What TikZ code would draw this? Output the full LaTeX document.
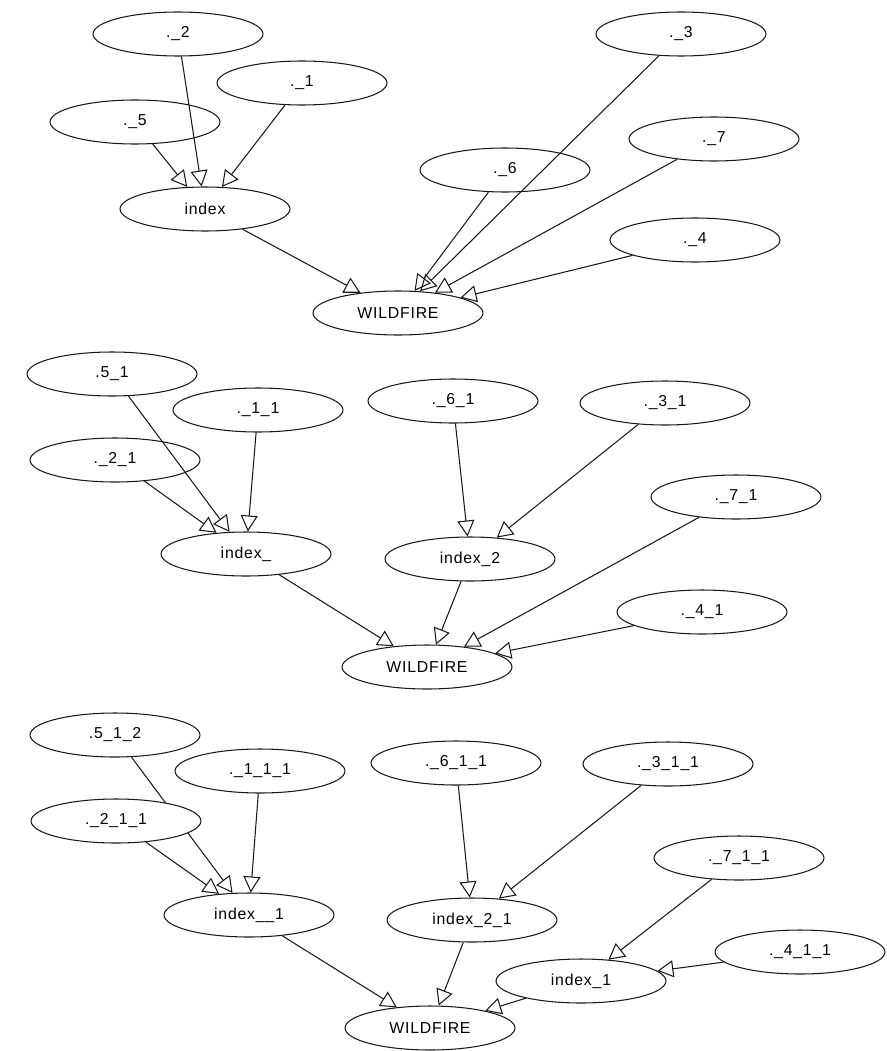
\documentclass[tikz,border=0pt]{standalone}
\usepackage{fontspec}
\setmainfont{Liberation Sans}[LetterSpace=5]
\usepackage{tikz}
\usetikzlibrary{shapes.geometric, arrows.meta, positioning}
\tikzstyle{arrow} = [->, >={Triangle[open,length=0.32cm,width=0.34cm]}, line width=0.6pt, draw=black!90]
\tikzstyle{var} = [ellipse, minimum width=3.4cm, minimum height=0.88cm, inner sep=0pt, draw=black!90, line width=0.6pt, font=\fontsize{9}{11}\selectfont]

\begin{document}
\begin{tikzpicture}[x=0.02cm, y=-0.02cm]
      \useasboundingbox (0,0) rectangle (886,1051);
      % first graph: one index node
      \node (fire) [var] at (398,313) {WILDFIRE};
      \node (idx) [var] at (205,209) {index};
      \node (s2) [var] at (178,34) {.\_2};
      \node (s1) [var] at (302,83) {.\_1};
      \node (s5) [var] at (135,122) {.\_5};
      \node (s3) [var] at (681,34) {.\_3};
      \node (s7) [var] at (714,139) {.\_7};
      \node (s6) [var] at (505,170) {.\_6};
      \node (s4) [var] at (695,240) {.\_4};
      \draw [arrow] (s2) -- (idx);
      \draw [arrow] (s1) -- (idx);
      \draw [arrow] (s5) -- (idx);
      \draw [arrow] (idx) -- (fire);
      \draw [arrow] (s6) -- (fire);
      \draw [arrow] (s3) -- (fire);
      \draw [arrow] (s7) -- (fire);
      \draw [arrow] (s4) -- (fire);
      % second graph: two index nodes
      \node (mfire) [var] at (427,667) {WILDFIRE};
      \node (midx) [var] at (246,554) {index\_};
      \node (midx2) [var] at (470,559) {index\_2};
      \node (m51) [var] at (112,374) {.5\_1};
      \node (m11) [var] at (258,410) {.\_1\_1};
      \node (m21) [var] at (115,460) {.\_2\_1};
      \node (m61) [var] at (453,401) {.\_6\_1};
      \node (m31) [var] at (665,403) {.\_3\_1};
      \node (m71) [var] at (736,497) {.\_7\_1};
      \node (m41) [var] at (702,612) {.\_4\_1};
      \draw [arrow] (m51) -- (midx);
      \draw [arrow] (m21) -- (midx);
      \draw [arrow] (m11) -- (midx);
      \draw [arrow] (m61) -- (midx2);
      \draw [arrow] (m31) -- (midx2);
      \draw [arrow] (midx) -- (mfire);
      \draw [arrow] (midx2) -- (mfire);
      \draw [arrow] (m71) -- (mfire);
      \draw [arrow] (m41) -- (mfire);
      % third graph: three index nodes
      \node (bfire) [var] at (430,1028) {WILDFIRE};
      \node (bidx) [var] at (249,915) {index\_\_1};
      \node (bidx21) [var] at (472,920) {index\_2\_1};
      \node (bidx1) [var] at (581,981) {index\_1};
      \node (b512) [var] at (115,735) {.5\_1\_2};
      \node (b111) [var] at (260,771) {.\_1\_1\_1};
      \node (b611) [var] at (456,763) {.\_6\_1\_1};
      \node (b311) [var] at (668,764) {.\_3\_1\_1};
      \node (b711) [var] at (739,858) {.\_7\_1\_1};
      \node (b411) [var] at (800,952) {.\_4\_1\_1};
      \draw [arrow] (b512) -- (bidx);
      \node (b211) [var, fill=white] at (116,821) {.\_2\_1\_1};
      \draw [arrow] (b211) -- (bidx);
      \draw [arrow] (b111) -- (bidx);
      \draw [arrow] (b611) -- (bidx21);
      \draw [arrow] (b311) -- (bidx21);
      \draw [arrow] (b711) -- (bidx1);
      \draw [arrow] (b411) -- (bidx1);
      \draw [arrow] (bidx) -- (bfire);
      \draw [arrow] (bidx21) -- (bfire);
      \draw [arrow] (bidx1) -- (bfire);
\end{tikzpicture}
\end{document}
